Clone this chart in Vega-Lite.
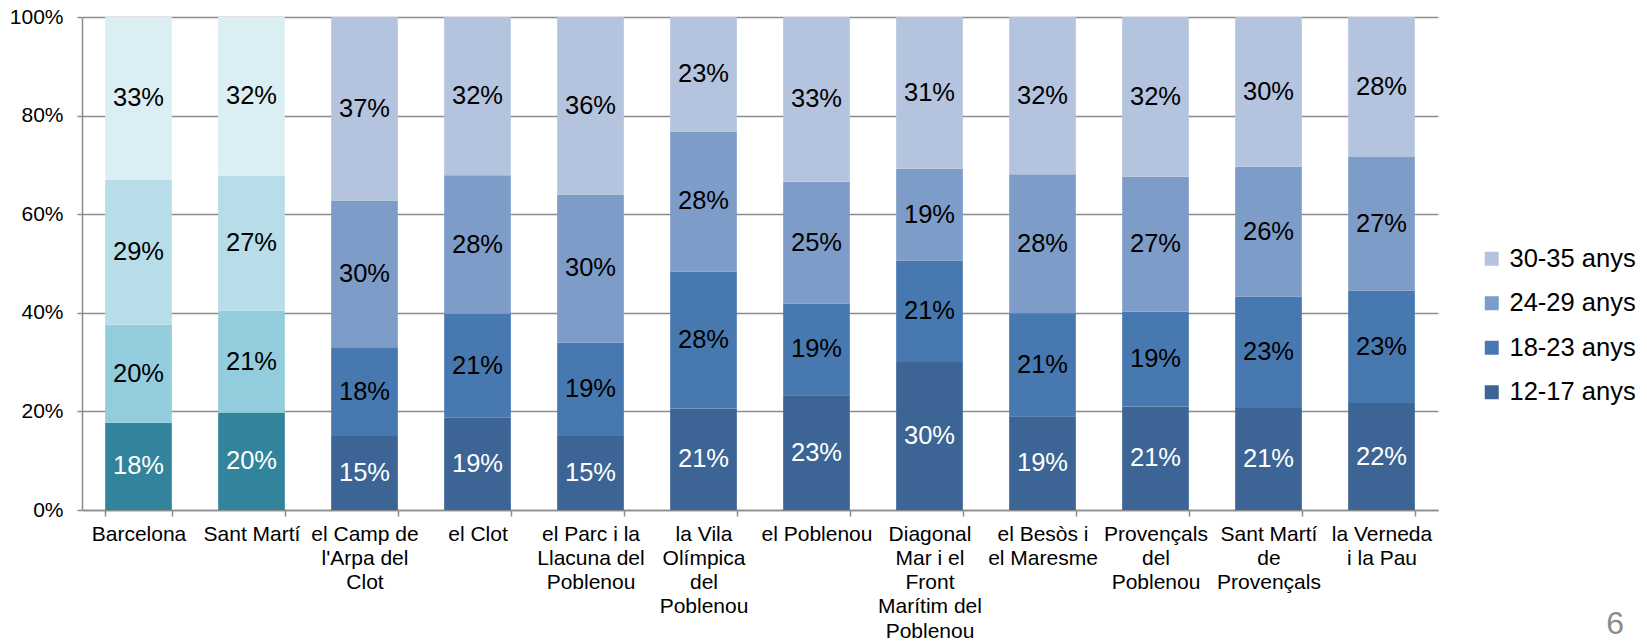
{
  "$schema": "https://vega.github.io/schema/vega-lite/v6.json",
  "width": 1356,
  "height": 493,
  "autosize": {"type": "none"},
  "padding": {"left": 82, "top": 17, "right": 209, "bottom": 131},
  "background": "white",
  "config": {"font": "Liberation Sans", "view": {"stroke": null}},
  "title": {"text": "6", "orient": "bottom", "anchor": "end", "frame": "group", "fontSize": 32, "color": "#8c8c8c", "fontWeight": "normal", "dx": 186, "dy": -36},
  "data": {"values": [
    {"zona": "Barcelona", "edat": "12-17 anys", "valor": 0.177},
    {"zona": "Barcelona", "edat": "18-23 anys", "valor": 0.199},
    {"zona": "Barcelona", "edat": "24-29 anys", "valor": 0.294},
    {"zona": "Barcelona", "edat": "30-35 anys", "valor": 0.330},
    {"zona": "Sant Martí", "edat": "12-17 anys", "valor": 0.198},
    {"zona": "Sant Martí", "edat": "18-23 anys", "valor": 0.206},
    {"zona": "Sant Martí", "edat": "24-29 anys", "valor": 0.274},
    {"zona": "Sant Martí", "edat": "30-35 anys", "valor": 0.322},
    {"zona": "el Camp de|l'Arpa del|Clot", "edat": "12-17 anys", "valor": 0.150},
    {"zona": "el Camp de|l'Arpa del|Clot", "edat": "18-23 anys", "valor": 0.180},
    {"zona": "el Camp de|l'Arpa del|Clot", "edat": "24-29 anys", "valor": 0.298},
    {"zona": "el Camp de|l'Arpa del|Clot", "edat": "30-35 anys", "valor": 0.372},
    {"zona": "el Clot", "edat": "12-17 anys", "valor": 0.187},
    {"zona": "el Clot", "edat": "18-23 anys", "valor": 0.211},
    {"zona": "el Clot", "edat": "24-29 anys", "valor": 0.281},
    {"zona": "el Clot", "edat": "30-35 anys", "valor": 0.321},
    {"zona": "el Parc i la|Llacuna del|Poblenou", "edat": "12-17 anys", "valor": 0.150},
    {"zona": "el Parc i la|Llacuna del|Poblenou", "edat": "18-23 anys", "valor": 0.190},
    {"zona": "el Parc i la|Llacuna del|Poblenou", "edat": "24-29 anys", "valor": 0.300},
    {"zona": "el Parc i la|Llacuna del|Poblenou", "edat": "30-35 anys", "valor": 0.360},
    {"zona": "la Vila|Olímpica|del|Poblenou", "edat": "12-17 anys", "valor": 0.206},
    {"zona": "la Vila|Olímpica|del|Poblenou", "edat": "18-23 anys", "valor": 0.278},
    {"zona": "la Vila|Olímpica|del|Poblenou", "edat": "24-29 anys", "valor": 0.284},
    {"zona": "la Vila|Olímpica|del|Poblenou", "edat": "30-35 anys", "valor": 0.232},
    {"zona": "el Poblenou", "edat": "12-17 anys", "valor": 0.233},
    {"zona": "el Poblenou", "edat": "18-23 anys", "valor": 0.186},
    {"zona": "el Poblenou", "edat": "24-29 anys", "valor": 0.247},
    {"zona": "el Poblenou", "edat": "30-35 anys", "valor": 0.334},
    {"zona": "Diagonal|Mar i el|Front|Marítim del|Poblenou", "edat": "12-17 anys", "valor": 0.300},
    {"zona": "Diagonal|Mar i el|Front|Marítim del|Poblenou", "edat": "18-23 anys", "valor": 0.206},
    {"zona": "Diagonal|Mar i el|Front|Marítim del|Poblenou", "edat": "24-29 anys", "valor": 0.186},
    {"zona": "Diagonal|Mar i el|Front|Marítim del|Poblenou", "edat": "30-35 anys", "valor": 0.308},
    {"zona": "el Besòs i|el Maresme", "edat": "12-17 anys", "valor": 0.190},
    {"zona": "el Besòs i|el Maresme", "edat": "18-23 anys", "valor": 0.209},
    {"zona": "el Besòs i|el Maresme", "edat": "24-29 anys", "valor": 0.282},
    {"zona": "el Besòs i|el Maresme", "edat": "30-35 anys", "valor": 0.319},
    {"zona": "Provençals|del|Poblenou", "edat": "12-17 anys", "valor": 0.210},
    {"zona": "Provençals|del|Poblenou", "edat": "18-23 anys", "valor": 0.192},
    {"zona": "Provençals|del|Poblenou", "edat": "24-29 anys", "valor": 0.274},
    {"zona": "Provençals|del|Poblenou", "edat": "30-35 anys", "valor": 0.324},
    {"zona": "Sant Martí|de|Provençals", "edat": "12-17 anys", "valor": 0.207},
    {"zona": "Sant Martí|de|Provençals", "edat": "18-23 anys", "valor": 0.226},
    {"zona": "Sant Martí|de|Provençals", "edat": "24-29 anys", "valor": 0.263},
    {"zona": "Sant Martí|de|Provençals", "edat": "30-35 anys", "valor": 0.304},
    {"zona": "la Verneda|i la Pau", "edat": "12-17 anys", "valor": 0.217},
    {"zona": "la Verneda|i la Pau", "edat": "18-23 anys", "valor": 0.228},
    {"zona": "la Verneda|i la Pau", "edat": "24-29 anys", "valor": 0.271},
    {"zona": "la Verneda|i la Pau", "edat": "30-35 anys", "valor": 0.284}
  ]},
  "encoding": {
    "x": {
      "field": "zona",
      "type": "nominal",
      "sort": ["Barcelona", "Sant Martí", "el Camp de|l'Arpa del|Clot", "el Clot", "el Parc i la|Llacuna del|Poblenou", "la Vila|Olímpica|del|Poblenou", "el Poblenou", "Diagonal|Mar i el|Front|Marítim del|Poblenou", "el Besòs i|el Maresme", "Provençals|del|Poblenou", "Sant Martí|de|Provençals", "la Verneda|i la Pau"],
      "scale": {"paddingInner": 0.41, "paddingOuter": 0.205},
      "axis": {
        "title": null,
        "labelAngle": 0,
        "labelExpr": "split(datum.label, '|')",
        "labelFontSize": 21,
        "labelColor": "#000000",
        "labelLineHeight": 24.3,
        "labelPadding": 7,
        "labelOverlap": false,
        "labelLimit": 0,
        "tickBand": "extent",
        "tickSize": 6,
        "tickColor": "#8c8c8c",
        "tickWidth": 1.5,
        "domainColor": "#8c8c8c",
        "domainWidth": 1.5,
        "grid": false
      }
    }
  },
  "layer": [
    {
      "transform": [{"filter": "datum.zona !== 'Barcelona' && datum.zona !== 'Sant Martí'"}],
      "mark": {"type": "bar"},
      "encoding": {
        "y": {
          "field": "valor",
          "type": "quantitative",
          "stack": "zero",
          "scale": {"domain": [0, 1]},
          "axis": {
            "values": [0, 0.2, 0.4, 0.6, 0.8, 1],
            "format": ".0%",
            "title": null,
            "grid": true,
            "gridColor": "#8c8c8c",
            "gridWidth": 1.5,
            "domainColor": "#8c8c8c",
            "domainWidth": 1.5,
            "tickColor": "#8c8c8c",
            "tickWidth": 1.5,
            "tickSize": 5,
            "labelFontSize": 21,
            "labelColor": "#000000",
            "labelPadding": 14
          }
        },
        "color": {
          "field": "edat",
          "type": "nominal",
          "scale": {"domain": ["30-35 anys", "24-29 anys", "18-23 anys", "12-17 anys"], "range": ["#b4c4df", "#7e9cc8", "#4878b0", "#3c6495"]},
          "legend": {
            "title": null,
            "orient": "none",
            "legendX": 1397,
            "legendY": 229,
            "symbolType": "square",
            "symbolSize": 196,
            "symbolStrokeWidth": 0,
            "labelFontSize": 25.5,
            "labelColor": "#000000",
            "labelOffset": 5,
            "rowPadding": 17.5,
            "padding": 0
          }
        },
        "order": {"field": "edat", "sort": "ascending"}
      }
    },
    {
      "transform": [{"filter": "datum.zona === 'Barcelona' || datum.zona === 'Sant Martí'"}],
      "mark": {"type": "bar"},
      "encoding": {
        "y": {"field": "valor", "type": "quantitative", "stack": "zero"},
        "color": {
          "field": "edat",
          "type": "nominal",
          "scale": {"domain": ["30-35 anys", "24-29 anys", "18-23 anys", "12-17 anys"], "range": ["#dbeef4", "#b7dde8", "#93cddd", "#31849b"]},
          "legend": null
        },
        "order": {"field": "edat", "sort": "ascending"}
      }
    },
    {
      "mark": {"type": "text", "fontSize": 25.5},
      "encoding": {
        "y": {"field": "valor", "type": "quantitative", "stack": "zero", "bandPosition": 0.5},
        "detail": {"field": "edat"},
        "order": {"field": "edat", "sort": "ascending"},
        "text": {"field": "valor", "type": "quantitative", "format": ".0%"},
        "color": {"condition": {"test": "datum.edat === '12-17 anys'", "value": "#ffffff"}, "value": "#000000"}
      }
    }
  ],
  "resolve": {"scale": {"color": "independent"}}
}
